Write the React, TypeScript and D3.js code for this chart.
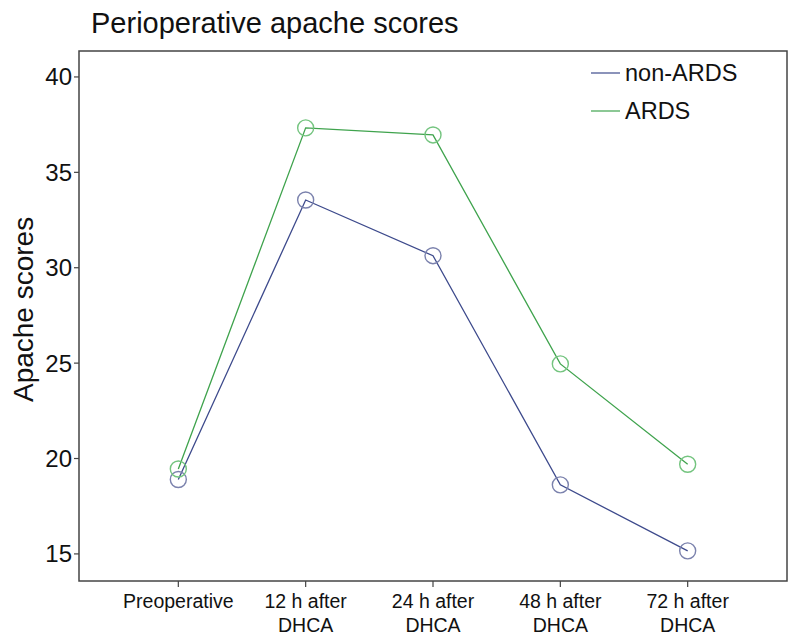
import * as d3 from "d3";

const categories = ["Preoperative", "12 h after\nDHCA", "24 h after\nDHCA", "48 h after\nDHCA", "72 h after\nDHCA"];
const nonArds = [18.9, 33.55, 30.63, 18.62, 15.16];
const ards = [19.45, 37.33, 36.96, 24.96, 19.7];
const yTicks = [15, 20, 25, 30, 35, 40];

const series = [
  { name: "non-ARDS", values: nonArds, line: "#3d4a8c", marker: "#7b82ad" },
  { name: "ARDS", values: ards, line: "#3fa34d", marker: "#74c47f" },
];

const W = 797, H = 640;
const margin = { top: 51, right: 10, bottom: 59, left: 79 };
const font = "'Liberation Sans', Arial, Helvetica, sans-serif";

export default function App() {
  const innerW = W - margin.left - margin.right;
  const innerH = H - margin.top - margin.bottom;
  const x = d3.scalePoint<string>().domain(categories).range([0, innerW]).padding(0.78);
  const y = d3.scaleLinear().domain([13.58, 41.36]).range([innerH, 0]);
  const line = d3.line<number>().x((_, i) => x(categories[i])!).y((d) => y(d));

  return (
    <svg width={W} height={H} style={{ position: "absolute", left: 0, top: 0, background: "#fff" }} fontFamily={font}>
      <text x={91} y={33} fontSize={29} fill="#111">Perioperative apache scores</text>
      <g transform={`translate(${margin.left},${margin.top})`}>
        <rect x={0} y={0} width={innerW} height={innerH} fill="none" stroke="#444" strokeWidth={1.5} />
        {yTicks.map((t) => (
          <g key={t} transform={`translate(0,${y(t)})`}>
            <line x1={-5} x2={0} stroke="#444" strokeWidth={1.2} />
            <text x={-7} dy="0.35em" textAnchor="end" fontSize={24} fill="#111">{t}</text>
          </g>
        ))}
        {categories.map((c) => (
          <g key={c} transform={`translate(${x(c)},${innerH})`}>
            <line y1={0} y2={6} stroke="#444" strokeWidth={1.2} />
            {c.split("\n").map((s, i) => (
              <text key={i} y={27 + i * 24} textAnchor="middle" fontSize={19.5} fill="#111">{s}</text>
            ))}
          </g>
        ))}
        {series.map((s) => (
          <g key={s.name}>
            <path d={line(s.values) ?? ""} fill="none" stroke={s.line} strokeWidth={1.3} />
            {s.values.map((v, i) => (
              <circle key={i} cx={x(categories[i])} cy={y(v)} r={8} fill="none" stroke={s.marker} strokeWidth={1.4} />
            ))}
          </g>
        ))}
        {series.map((s, i) => (
          <g key={s.name} transform={`translate(512,${22 + i * 38})`}>
            <line x1={0} x2={29} stroke={s.line} strokeWidth={1.2} />
            <text x={34} dy="0.35em" fontSize={23.5} fill="#111">{s.name}</text>
          </g>
        ))}
      </g>
      <text transform={`translate(33,${margin.top + y(27.5) - 6}) rotate(-90)`} textAnchor="middle" fontSize={28} fill="#111">Apache scores</text>
    </svg>
  );
}
